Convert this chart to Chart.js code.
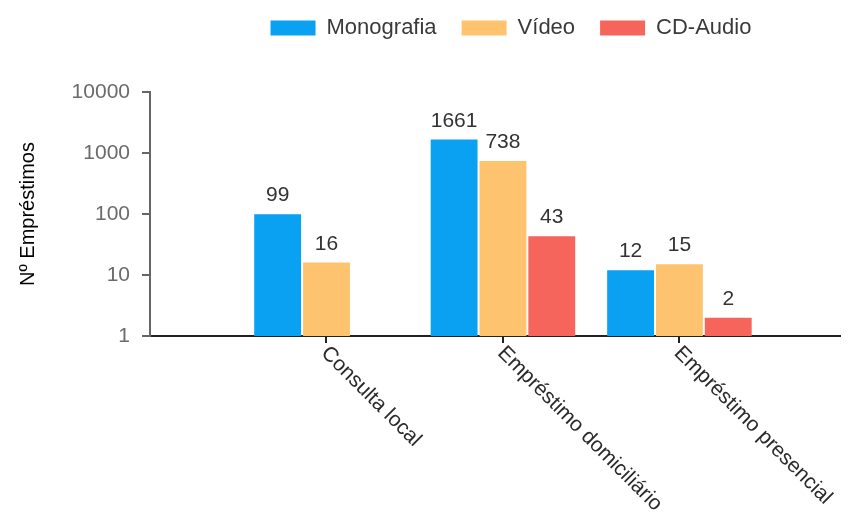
<!DOCTYPE html>
<html>
<head>
<meta charset="utf-8">
<title>Nº Empréstimos</title>
<script src="https://cdn.jsdelivr.net/npm/chart.js@4.4.0/dist/chart.umd.min.js"></script>
<style>
  html, body { margin: 0; padding: 0; background: #fff; }
  #wrap { width: 850px; height: 515px; }
</style>
</head>
<body>
<div id="wrap"><canvas id="barChart"></canvas></div>
<script>
// categorias e valores
var categories = ['Consulta local', 'Empréstimo domiciliário', 'Empréstimo presencial'];
var monografia = [99, 1661, 12];
var video = [16, 738, 15];
var cdAudio = [null, 43, 2];
var yTicks = [1, 10, 100, 1000, 10000];

var FONT = 'Arial, "Liberation Sans", sans-serif';
Chart.defaults.font.family = FONT;

// cada categoria numa posição 1, 2, 3 do eixo x linear
function toPoints(values) {
  return values.map((v, i) => ({ x: i + 1, y: v }));
}

// valores por cima das barras
var barValues = {
  id: 'barValues',
  afterDatasetsDraw(chart) {
    var ctx = chart.ctx;
    ctx.save();
    ctx.font = '21px ' + FONT;
    ctx.fillStyle = '#333';
    ctx.textAlign = 'center';
    ctx.textBaseline = 'alphabetic';
    chart.data.datasets.forEach((ds, i) => {
      chart.getDatasetMeta(i).data.forEach((bar, j) => {
        var v = ds.data[j].y;
        if (v == null) return;
        ctx.fillText(v, bar.x, bar.y - 13);
      });
    });
    ctx.restore();
  }
};

// rótulos do eixo x inclinados para baixo
var slantedLabels = {
  id: 'slantedLabels',
  afterDraw(chart) {
    var ctx = chart.ctx, xs = chart.scales.x;
    ctx.save();
    ctx.font = '21px ' + FONT;
    ctx.fillStyle = '#2b2b2b';
    ctx.textAlign = 'left';
    ctx.textBaseline = 'middle';
    categories.forEach((c, i) => {
      ctx.save();
      ctx.translate(xs.getPixelForValue(i + 1) - 2, xs.top + 14);
      ctx.rotate(Math.PI / 4);
      ctx.fillText(c, 0, 0);
      ctx.restore();
    });
    ctx.restore();
  }
};

// espaço por baixo da legenda e legenda um pouco à direita
var legendSpace = {
  id: 'legendSpace',
  beforeInit(chart) {
    var fit = chart.legend.fit;
    chart.legend.fit = function () {
      fit.call(this);
      this.height += 35;
    };
  },
  afterLayout(chart) {
    chart.legend.left += 32;
    chart.legend.top -= 8;
  }
};

var barCtx = document.getElementById('barChart').getContext('2d');

var barChart = new Chart(barCtx, {
  type: 'bar',
  data: {
    datasets: [
      { label: 'Monografia', data: toPoints(monografia), backgroundColor: '#0aa1f3' },
      { label: 'Vídeo', data: toPoints(video), backgroundColor: '#fdc36f' },
      { label: 'CD-Audio', data: toPoints(cdAudio), backgroundColor: '#f6655c' }
    ]
  },
  plugins: [barValues, slantedLabels, legendSpace],
  options: {
    responsive: true,
    maintainAspectRatio: false,
    animation: false,
    layout: { padding: { top: 0, right: 10, bottom: 0, left: 0 } },
    datasets: { bar: { categoryPercentage: 0.83, barPercentage: 0.96 } },
    plugins: {
      legend: {
        position: 'top',
        fullSize: false,
        labels: {
          boxWidth: 45,
          boxHeight: 15,
          padding: 25,
          color: '#3a3a3a',
          font: { size: 22 }
        }
      },
      tooltip: { enabled: false }
    },
    scales: {
      x: {
        type: 'linear',
        min: 0,
        max: 3.91,
        offset: false,
        afterBuildTicks: s => { s.ticks = categories.map((c, i) => ({ value: i + 1 })); },
        afterFit: s => { s.height = 179; },
        ticks: { display: false },
        grid: { offset: false, drawOnChartArea: false, tickLength: 7, color: '#222', lineWidth: 2 },
        border: { color: '#222', width: 2 }
      },
      y: {
        type: 'logarithmic',
        min: 1,
        max: 10000,
        afterBuildTicks: s => { s.ticks = yTicks.map(v => ({ value: v })); },
        afterFit: s => { s.width = 150; },
        ticks: {
          color: '#6b6b6b',
          font: { size: 21 },
          padding: 12,
          callback: v => String(v)
        },
        grid: { drawOnChartArea: false, tickLength: 8, color: '#666', lineWidth: 2 },
        border: { color: '#666', width: 2 },
        title: {
          display: true,
          text: 'Nº Empréstimos',
          color: '#000',
          font: { size: 20 },
          padding: { top: 16, bottom: 4 }
        }
      }
    }
  }
});
</script>
</body>
</html>
